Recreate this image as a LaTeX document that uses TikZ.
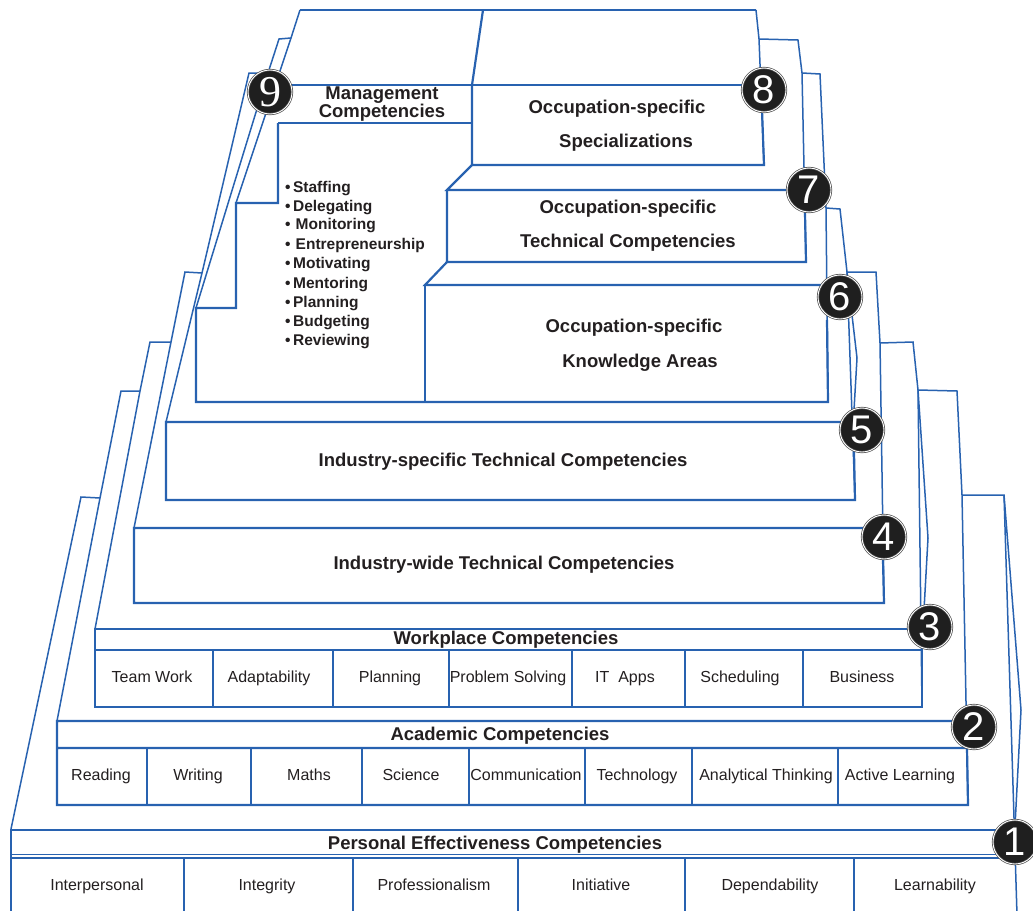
\documentclass[tikz,border=0pt]{standalone}
\usepackage{fontspec}
\setmainfont{Liberation Sans}
\newfontfamily\numserif{Liberation Serif}
\usetikzlibrary{positioning}

\definecolor{tierblue}{RGB}{40,98,176}
\definecolor{ink}{RGB}{35,31,32}

\begin{document}
\begin{tikzpicture}[x=1pt, y=-1pt,
    tier/.style={draw=tierblue, line width=2.2pt, line join=miter},
    side/.style={draw=tierblue, line width=1.5pt, line join=miter},
    head/.style={text=ink, font=\bfseries\fontsize{18.5}{15}\selectfont,
        text height=13.3pt, text depth=0pt},
    cell/.style={text=ink, font=\fontsize{16}{18}\selectfont,
        text height=11.5pt, text depth=0pt},
    point/.style={text=ink, font=\bfseries\fontsize{15.5}{18}\selectfont, anchor=west,
        inner sep=0pt, text height=11.1pt, text depth=0pt},
    badge/.style={circle, fill=black!88, draw=black!70, double=white, double distance=0.9pt,
        line width=0.7pt, minimum size=44pt, inner sep=0pt, text=white,
        font=\fontsize{40}{40}\selectfont}]
    \useasboundingbox (0,0) rectangle (1033,910);

    % left flanks, outer tier first
    \draw[side] (11,829) -- (81,497) -- (100,498);
    \draw[side] (57,721) -- (100,498) -- (121,391) -- (140,391);
    \draw[side] (95,629) -- (140,391) -- (150,342) -- (171,342);
    \draw[side] (134,528) -- (171,342) -- (185,272) -- (202,273);
    \draw[side] (166,422) -- (202,273) -- (249,73) -- (268,73);
    \draw[side] (196,308) -- (268,73) -- (279,39) -- (291,38);
    \draw[side] (236,203) -- (291,38) -- (300,10);

    % right flanks
    \draw[side] (962,495) -- (1004,495) -- (1017,915);
    \draw[side] (1004,495) -- (1021,710) -- (1015,826);
    \draw[side] (918,390) -- (957,391) -- (962,495) -- (968,805);
    \draw[side] (880,343) -- (913,342) -- (918,390) -- (922,707);
    \draw[side] (918,390) -- (928,538) -- (924,610);
    \draw[side] (847,272) -- (876,272) -- (880,343) -- (884,603);
    \draw[side] (826,208) -- (840,209) -- (847,272) -- (855,500);
    \draw[side] (847,272) -- (857,358) -- (854,410);
    \draw[side] (802,73) -- (820,74) -- (826,208) -- (828,402);
    \draw[side] (759,39) -- (798,40) -- (802,73) -- (806,262);
    \draw[side] (756,10) -- (759,39) -- (764,165);

    % top block: management and occupation tiers
    \draw[tier] (300,10) -- (483,10) -- (756,10);
    \draw[tier] (483,10) -- (472,85);
    \draw[tier] (276,85) -- (760,85);
    \draw[tier] (472,85) -- (472,165) -- (764,165) -- (762,110);
    \draw[tier] (278,123) -- (472,123);
    \draw[tier] (278,123) -- (278,203) -- (236,203) -- (236,308) -- (196,308)
        -- (196,402) -- (828,402) -- (827,320);
    \draw[tier] (472,165) -- (447,190) -- (803,190);
    \draw[tier] (447,190) -- (447,262) -- (806,262) -- (805,213);
    \draw[tier] (447,262) -- (425,285) -- (826,285);
    \draw[tier] (425,285) -- (425,402);

    % industry tiers
    \draw[tier] (850,422) -- (166,422) -- (166,500) -- (855,500) -- (854,452);
    \draw[tier] (881,528) -- (134,528) -- (134,603) -- (884,603) -- (883,560);

    % workplace tier
    \draw[tier] (920,629) -- (95,629) -- (95,707) -- (922,707) -- (922,650) -- (95,650);
    \foreach \x in {213,333,449,572,685,803}
        \draw[tier] (\x,650) -- (\x,707);

    % academic tier
    \draw[tier] (966,721) -- (57,721) -- (57,805) -- (968,805) -- (967,748) -- (57,748);
    \foreach \x in {147,251,362,469,585,692,838}
        \draw[tier] (\x,748) -- (\x,805);

    % personal effectiveness tier
    \draw[tier] (1013,830) -- (11,830) -- (11,915);
    \draw[side, line width=1pt] (11,854) -- (1014,854);
    \draw[tier] (11,858) -- (1016,858);
    \foreach \x in {184,353,518,685,854}
        \draw[tier] (\x,858) -- (\x,915);

    % tier titles
    \node[head] (pec) at (495,843) {Personal Effectiveness Competencies};
    \node[head] (acc) at (500,734) {Academic Competencies};
    \node[head] (wpc) at (506,638) {Workplace Competencies};
    \node[head] (iwt) at (504,563) {Industry-wide Technical Competencies};
    \node[head] (ist) at (503,460) {Industry-specific Technical Competencies};
    \node[head] (ka1) at (634,326) {Occupation-specific};
    \node[head] (ka2) at (640,361) {Knowledge Areas};
    \node[head] (tc1) at (628,207) {Occupation-specific};
    \node[head] (tc2) at (628,241) {Technical Competencies};
    \node[head] (sp1) at (617,107) {Occupation-specific};
    \node[head] (sp2) at (626,141) {Specializations};
    \node[head, inner ysep=0pt] (mg1) at (382,93) {Management};
    \node[head, inner ysep=0pt] (mg2) at (382,111) {Competencies};

    % management items
    \foreach \y/\item in {187/Staffing, 206/Delegating, 224/{\,Monitoring},
        244/{\,Entrepreneurship}, 263/Motivating, 283/Mentoring, 302/Planning,
        321/Budgeting, 340/Reviewing}
        \node[point] at (285,\y) {\textbullet\hspace{2.5pt}\item};

    % workplace cells
    \foreach \x/\item in {152/Team Work, 269/Adaptability, 390/Planning,
        508/Problem Solving, 625/{IT\ \ Apps}, 740/Scheduling, 862/Business}
        \node[cell] at (\x,677) {\item};

    % academic cells
    \foreach \x/\item in {101/Reading, 198/Writing, 309/Maths, 411/Science,
        526/Communication, 637/Technology, 766/Analytical Thinking, 900/Active Learning}
        \node[cell] at (\x,775) {\item};

    % personal cells
    \foreach \x/\item in {97/Interpersonal, 267/Integrity, 434/Professionalism,
        601/Initiative, 770/Dependability, 935/Learnability}
        \node[cell] at (\x,885) {\item};

    % tier numbers
    \node[badge] (n1) at (1015,842) {1};
    \node[badge] (n2) at (974,727) {2};
    \node[badge] (n3) at (930,627) {3};
    \node[badge] (n4) at (884,537) {4};
    \node[badge] (n5) at (862,430) {5};
    \node[badge] (n6) at (840,297) {6};
    \node[badge] (n7) at (809,190) {7};
    \node[badge] (n8) at (764,90) {8};
    \node[badge, font=\numserif\fontsize{44}{44}\selectfont] (n9) at (270,92) {9};
\end{tikzpicture}
\end{document}
